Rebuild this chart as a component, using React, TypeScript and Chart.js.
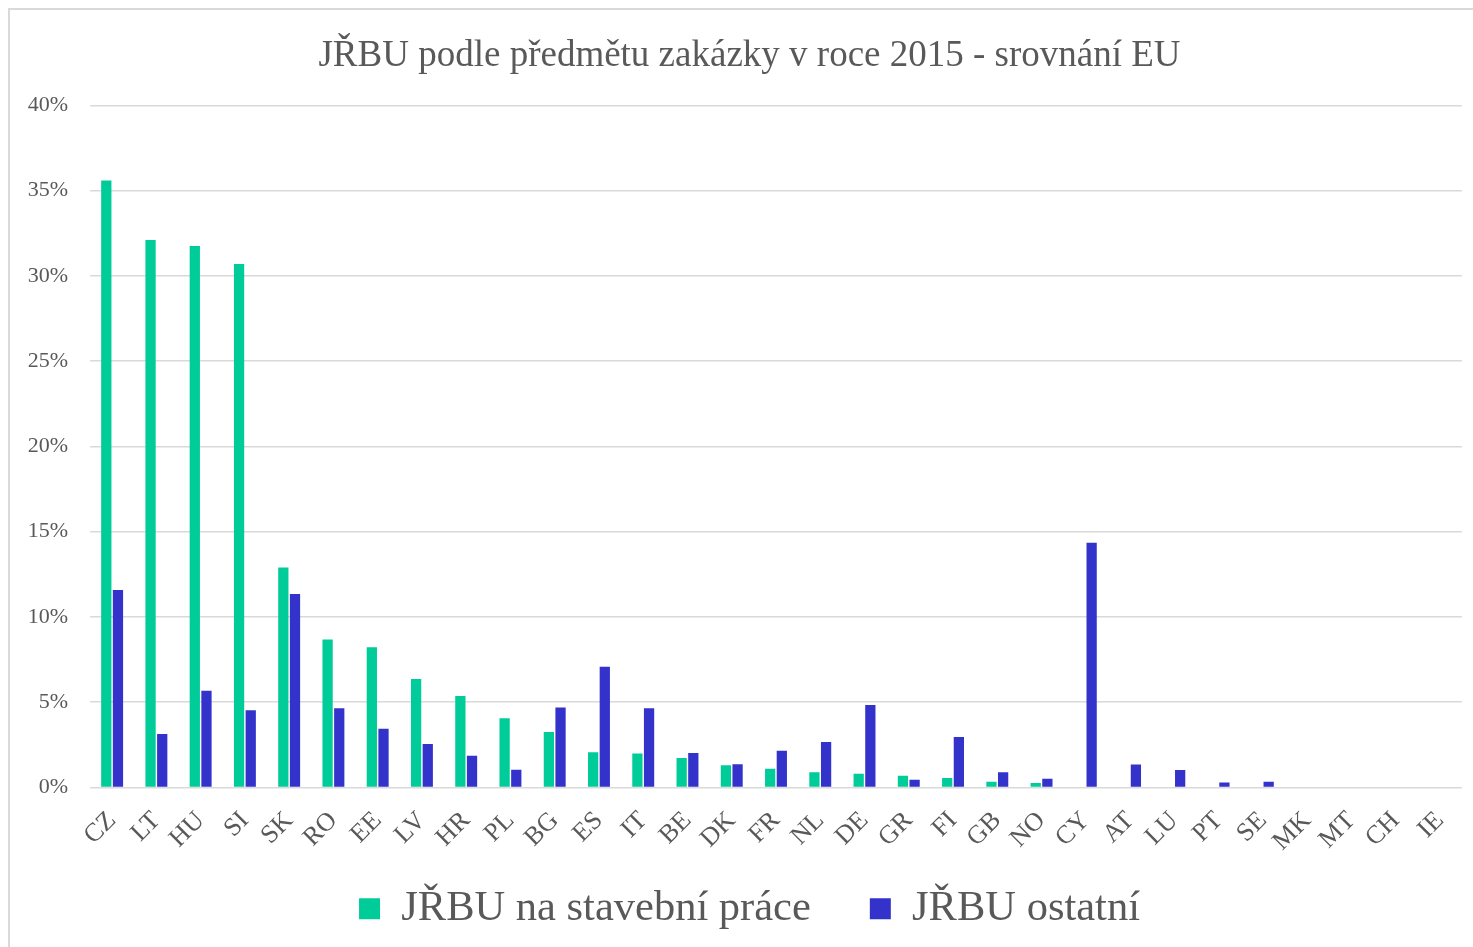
import React, { useEffect, useRef } from "react";
import { Chart, registerables } from "chart.js";

Chart.register(...registerables);

const categories = ["CZ","LT","HU","SI","SK","RO","EE","LV","HR","PL","BG","ES","IT","BE","DK","FR","NL","DE","GR","FI","GB","NO","CY","AT","LU","PT","SE","MK","MT","CH","IE"];
const stavebniPrace = [35.6,32.1,31.75,30.7,12.9,8.68,8.22,6.37,5.37,4.06,3.25,2.06,2.0,1.73,1.31,1.10,0.90,0.80,0.69,0.55,0.33,0.27,0,0,0,0,0,0,0,0,0];
const ostatni = [11.58,3.14,5.68,4.53,11.34,4.65,3.45,2.55,1.86,1.04,4.69,7.08,4.65,2.03,1.37,2.16,2.67,4.84,0.45,2.96,0.90,0.51,14.35,1.35,1.02,0.29,0.33,0,0,0,0];
const seriesNames = ["JŘBU na stavební práce", "JŘBU ostatní"];
const titleText = "JŘBU podle předmětu zakázky v roce 2015 - srovnání EU";
const yTickStep = 5;
const yMax = 40;

const FONT = '"Liberation Serif", "Times New Roman", serif';
const TEXT = "#595959";

export default function App() {
  const ref = useRef<HTMLCanvasElement | null>(null);
  useEffect(() => {
    if (!ref.current) return;
    const chart = new Chart(ref.current, {
      type: "bar",
      data: {
        labels: categories,
        datasets: [
          { label: seriesNames[0], data: stavebniPrace, backgroundColor: "#00CC99", categoryPercentage: 0.527, barPercentage: 0.88, yAxisID: "y" },
          { label: seriesNames[1], data: ostatni, backgroundColor: "#3333CC", categoryPercentage: 0.527, barPercentage: 0.88, yAxisID: "y" },
        ],
      },
      options: {
        animation: false,
        responsive: false,
        maintainAspectRatio: false,
        layout: { autoPadding: false, padding: { left: 18, right: 19, top: 0, bottom: 30 } },
        plugins: {
          title: {
            display: true,
            text: titleText,
            color: TEXT,
            font: { family: FONT, size: 37, weight: "normal" },
            padding: { top: 24, bottom: 27 },
          },
          legend: {
            position: "bottom",
            labels: {
              color: TEXT,
              font: { family: FONT, size: 42.5 },
              boxWidth: 21,
              boxHeight: 21,
              padding: 59,
            },
          },
          tooltip: { enabled: false },
        },
        scales: {
          x: {
            grid: { display: false, drawTicks: false },
            border: { display: false },
            afterFit: (s: any) => {
              s.height = 41;
              s.paddingLeft = 0;
              s.paddingRight = 0;
              s._computeLabelArea = () => undefined;
            },
            ticks: {
              color: TEXT,
              font: { family: FONT, size: 26 },
              minRotation: 45,
              maxRotation: 45,
              padding: 18,
              autoSkip: false,
            },
          },
          y: {
            min: 0,
            max: yMax,
            afterFit: (s: any) => { s.width = 62; },
            grid: { color: "#d9d9d9", lineWidth: 1.5, drawTicks: false },
            border: { display: false },
            ticks: {
              stepSize: yTickStep,
              color: TEXT,
              font: { family: FONT, size: 22 },
              padding: 22,
              callback: (v: any) => v + "%",
            },
          },
          y2: {
            position: "right",
            display: true,
            min: 0,
            max: yMax,
            grid: { display: false, drawTicks: false },
            border: { display: false },
            ticks: { display: false },
            afterFit: (s: any) => { s.width = 9; },
          },
        },
      },
    });
    return () => chart.destroy();
  }, []);
  return (
    <div style={{ position: "fixed", inset: 0, overflow: "hidden", background: "#fff" }}>
      <div style={{ position: "absolute", left: 8, top: 8, width: 1480, height: 960, border: "2px solid #d9d9d9", background: "#fff" }}>
        <canvas ref={ref} width={1480} height={960} style={{ display: "block" }} />
      </div>
    </div>
  );
}
